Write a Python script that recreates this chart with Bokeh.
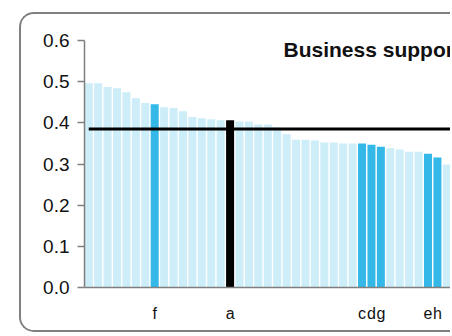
from bokeh.plotting import figure
from bokeh.models import Range1d, FixedTicker, Label, NumeralTickFormatter
from bokeh.embed import file_html
from bokeh.resources import INLINE

# ---- data ----
values = [0.496, 0.496, 0.487, 0.484, 0.474, 0.460, 0.448, 0.445, 0.438, 0.436,
          0.428, 0.414, 0.411, 0.409, 0.406, 0.406, 0.403, 0.403, 0.396, 0.396,
          0.389, 0.372, 0.359, 0.359, 0.357, 0.352, 0.352, 0.350, 0.350, 0.350,
          0.347, 0.342, 0.338, 0.335, 0.330, 0.330, 0.325, 0.316, 0.299]
labels = ["", "", "", "", "", "", "", "f", "", "",
          "", "", "", "", "", "a", "", "", "", "",
          "", "", "", "", "", "", "", "", "", "c",
          "d", "g", "", "", "", "", "e", "h", ""]
focus_label = "a"
benchmark = 0.385
y_ticks = [0.0, 0.1, 0.2, 0.3, 0.4, 0.5, 0.6]
title_text = "Business support"

LIGHT = "#CDEDF9"
DARK = "#33B8E8"
FOCUS = "#000000"
FONT = "Liberation Sans"

xs = list(range(len(values)))
colors = [FOCUS if l == focus_label else (DARK if l else LIGHT) for l in labels]

p = figure(width=431, height=320, output_backend="svg", toolbar_location=None,
           x_range=Range1d(-0.45, 38.6), y_range=Range1d(0, 0.6),
           min_border_left=63, min_border_right=0, min_border_top=26,
           min_border_bottom=47)
p.outline_line_color = None
p.xgrid.grid_line_color = None
p.ygrid.grid_line_color = None
p.background_fill_color = "white"
p.border_fill_color = "white"
p.styles = {
    "margin-left": "19px",
    "margin-top": "12px",
    "border-left": "2px solid #808080",
    "border-top": "2px solid #808080",
    "border-bottom": "2px solid #808080",
    "border-top-left-radius": "15px",
    "border-bottom-left-radius": "15px",
    "overflow": "hidden",
}

p.vbar(x=xs, top=values, width=0.85, fill_color=colors, line_color=None)
p.line([0, len(values) + 5], [benchmark, benchmark], line_color="#000000", line_width=2.8)

# y axis
ya = p.yaxis[0]
ya.ticker = FixedTicker(ticks=y_ticks)
ya.formatter = NumeralTickFormatter(format="0.0")
ya.major_tick_out = 7
ya.major_tick_in = 0
ya.minor_tick_line_color = None
ya.axis_line_color = "#7f7f7f"
ya.axis_line_width = 1.5
ya.major_tick_line_color = "#7f7f7f"
ya.major_tick_line_width = 1.5
ya.major_label_text_font = FONT
ya.major_label_text_font_size = "19px"
ya.major_label_text_color = "#111111"
ya.major_label_standoff = 8

# x axis
xa = p.xaxis[0]
xa.ticker = FixedTicker(ticks=[i for i, l in enumerate(labels) if l])
xa.major_label_overrides = {i: l for i, l in enumerate(labels) if l}
xa.major_tick_line_color = None
xa.major_tick_out = 0
xa.major_tick_in = 0
xa.minor_tick_line_color = None
xa.axis_line_color = "#7f7f7f"
xa.axis_line_width = 1.5
xa.major_label_text_font = FONT
xa.major_label_text_font_size = "16px"
xa.major_label_text_color = "#111111"
xa.major_label_standoff = 17

p.add_layout(Label(x=20.67, y=0.577, text=title_text, text_font=FONT,
                   text_font_size="21px", text_font_style="bold",
                   text_color="#111111", text_baseline="alphabetic"))

open("out.html", "w").write(file_html(p, INLINE))
